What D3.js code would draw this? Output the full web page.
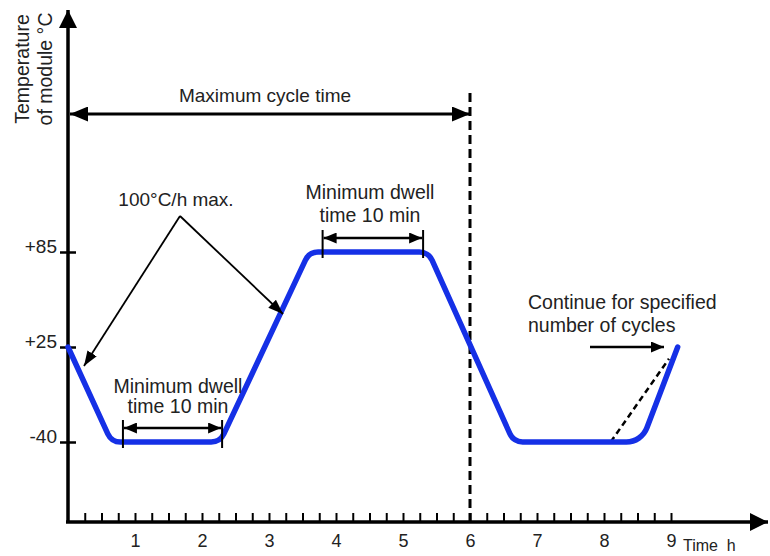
<!DOCTYPE html>
<html>
<head>
<meta charset="utf-8">
<script src="https://cdn.jsdelivr.net/npm/d3@7"></script>
<style>
  body { margin: 0; background: #fff; }
  text { font-family: "Liberation Sans", Arial, sans-serif; fill: #222; }
</style>
</head>
<body>
<svg id="chart"></svg>
<script>
const W = 770;
const H = 556;

// temperature profile (time in h, temperature in °C)
const hours = [0, 0.65, 2.27, 3.6, 5.38, 6.65, 8.56, 9.1];
const temps = [25, -40, -40, 85, 85, -40, -40, 25];

// dashed 100°C/h guide on the last ramp
const guideHours = [8.1, 8.97];
const guideTemps = [-40, 17];

// dwell spans: start h, end h, temperature level
const dwellStart = [0.82, 3.8];
const dwellEnd = [2.3, 5.3];
const dwellTemp = [-40, 85];

const tempTicks = [-40, 25, 85];
const tempLabels = ["-40", "+25", "+85"];
const hourTicks = [1, 2, 3, 4, 5, 6, 7, 8, 9];
const cycleEnd = 6;

const svg = d3.select("#chart").attr("width", W).attr("height", H);

const x = d3.scaleLinear().domain([0, 9]).range([68, 671]);
// schematic axis: the three marked levels are not evenly spaced
const y = d3.scaleLinear().domain([-40, 25, 85]).range([442, 347, 252]);

const defs = svg.append("defs");
function marker(id, len, wid) {
	defs.append("marker")
		.attr("id", id)
		.attr("markerUnits", "userSpaceOnUse")
		.attr("viewBox", `0 ${-wid / 2} ${len} ${wid}`)
		.attr("refX", len).attr("refY", 0)
		.attr("markerWidth", len).attr("markerHeight", wid)
		.attr("orient", "auto-start-reverse")
		.append("path")
		.attr("d", `M0,${-wid / 2}L${len},0L0,${wid / 2}Z`)
		.attr("fill", "#000");
}
marker("big", 18, 15);
marker("mid", 13, 11);
marker("thin", 15, 11);
marker("axis", 18, 18);

const x0 = x(0), yBase = 522;
const FONT = "Liberation Sans, Arial, sans-serif";

// x axis: minor ticks every quarter hour pointing up
const minor = d3.range(1, 37).map(d => d / 4);
svg.append("g")
	.attr("transform", `translate(0,${yBase})`)
	.call(d3.axisBottom(x).tickValues(minor).tickSize(-9).tickFormat(""))
	.call(g => g.select(".domain").remove())
	.call(g => g.selectAll(".tick line").attr("stroke", "#000").attr("stroke-width", 2));

svg.append("g")
	.attr("transform", `translate(0,${yBase})`)
	.call(d3.axisBottom(x).tickValues(hourTicks).tickSize(0).tickPadding(12).tickFormat(d3.format("d")))
	.call(g => g.select(".domain").remove())
	.call(g => g.selectAll("text").attr("font-size", 18).attr("fill", "#222").attr("font-family", FONT));

svg.append("text")
	.attr("x", 683).attr("y", 551)
	.attr("font-size", 16)
	.attr("xml:space", "preserve")
	.text("Time  h");

// y axis ticks cross the axis line
svg.append("g")
	.attr("transform", `translate(${x0},0)`)
	.call(d3.axisLeft(y).tickValues(tempTicks).tickSize(8).tickPadding(3)
		.tickFormat((d, i) => tempLabels[i]))
	.call(g => g.select(".domain").remove())
	.call(g => g.selectAll(".tick line").attr("x2", 8).attr("x1", -8)
		.attr("stroke", "#000").attr("stroke-width", 2.5))
	.call(g => g.selectAll("text").attr("font-size", 19).attr("y", -6).attr("fill", "#222")
		.attr("font-family", FONT));

// axis lines with arrows
svg.append("line")
	.attr("x1", x0).attr("y1", yBase).attr("x2", x0).attr("y2", 10)
	.attr("stroke", "#000").attr("stroke-width", 3.5)
	.attr("marker-end", "url(#axis)");
svg.append("line")
	.attr("x1", x0 - 2).attr("y1", yBase).attr("x2", 768).attr("y2", yBase)
	.attr("stroke", "#000").attr("stroke-width", 3.5)
	.attr("marker-end", "url(#axis)");

svg.append("text")
	.attr("transform", "translate(29,69) rotate(-90)")
	.attr("text-anchor", "middle")
	.attr("font-size", 19.5)
	.call(t => {
		t.append("tspan").attr("x", 0).attr("dy", 0).text("Temperature");
		t.append("tspan").attr("x", 0).attr("dy", 23).text("of module °C");
	});

// end of cycle marker
svg.append("line")
	.attr("x1", x(cycleEnd)).attr("x2", x(cycleEnd))
	.attr("y1", 93).attr("y2", yBase)
	.attr("stroke", "#000").attr("stroke-width", 3)
	.attr("stroke-dasharray", "9,5");

// maximum cycle time
svg.append("line")
	.attr("x1", x0 + 2).attr("x2", x(cycleEnd))
	.attr("y1", 114).attr("y2", 114)
	.attr("stroke", "#000").attr("stroke-width", 3)
	.attr("marker-start", "url(#big)").attr("marker-end", "url(#big)");
svg.append("text")
	.attr("x", 265).attr("y", 102)
	.attr("text-anchor", "middle").attr("font-size", 19)
	.text("Maximum cycle time");

// dashed guide
svg.append("path")
	.attr("d", d3.line()(guideHours.map((h, i) => [x(h), y(guideTemps[i])])))
	.attr("stroke", "#000").attr("stroke-width", 2.5)
	.attr("stroke-dasharray", "6,4").attr("fill", "none");

// profile with rounded corners
const radii = [14, 14, 14, 14, 14, 22];
const pts = hours.map((h, i) => [x(h), y(temps[i])]);
const p = d3.path();
p.moveTo(pts[0][0], pts[0][1]);
for (let i = 1; i < pts.length - 1; i++) {
	p.arcTo(pts[i][0], pts[i][1], pts[i + 1][0], pts[i + 1][1], radii[i - 1]);
}
p.lineTo(pts[pts.length - 1][0], pts[pts.length - 1][1]);
svg.append("path")
	.attr("d", p.toString())
	.attr("fill", "none")
	.attr("stroke", "#1530e6")
	.attr("stroke-width", 5.5)
	.attr("stroke-linecap", "round");

// dwell arrows
const dwellOffset = [-14, -14];
const dwellText = [[178, 393, 413], [370, 199, 222]];
dwellStart.forEach((s, i) => {
	let yy = y(dwellTemp[i]) + dwellOffset[i];
	let yb = y(dwellTemp[i]);
	let g = svg.append("g");
	[s, dwellEnd[i]].forEach(h => {
		g.append("line")
			.attr("x1", x(h)).attr("x2", x(h))
			.attr("y1", yy - 8).attr("y2", yb + 6)
			.attr("stroke", "#000").attr("stroke-width", 2);
	});
	g.append("line")
		.attr("x1", x(s) + 1).attr("x2", x(dwellEnd[i]) - 1)
		.attr("y1", yy).attr("y2", yy)
		.attr("stroke", "#000").attr("stroke-width", 2.5)
		.attr("marker-start", "url(#mid)").attr("marker-end", "url(#mid)");
	let t = g.append("text").attr("text-anchor", "middle").attr("font-size", 19.5);
	t.append("tspan").attr("x", dwellText[i][0]).attr("y", dwellText[i][1]).text("Minimum dwell");
	t.append("tspan").attr("x", dwellText[i][0]).attr("y", dwellText[i][2]).text("time 10 min");
});

// ramp rate callout
const apex = [180, 216];
[[84, 366], [283, 314]].forEach(tip => {
	svg.append("line")
		.attr("x1", apex[0]).attr("y1", apex[1])
		.attr("x2", tip[0]).attr("y2", tip[1])
		.attr("stroke", "#000").attr("stroke-width", 1.8)
		.attr("marker-end", "url(#thin)");
});
svg.append("text")
	.attr("x", 176).attr("y", 206)
	.attr("text-anchor", "middle").attr("font-size", 19)
	.text("100°C/h max.");

// continue callout
svg.append("line")
	.attr("x1", 590).attr("x2", 664)
	.attr("y1", y(25)).attr("y2", y(25))
	.attr("stroke", "#000").attr("stroke-width", 2.5)
	.attr("marker-end", "url(#mid)");
svg.append("text")
	.attr("font-size", 19.5)
	.call(t => {
		t.append("tspan").attr("x", 528).attr("y", 309).text("Continue for specified");
		t.append("tspan").attr("x", 528).attr("y", 332).text("number of cycles");
	});
</script>
</body>
</html>
